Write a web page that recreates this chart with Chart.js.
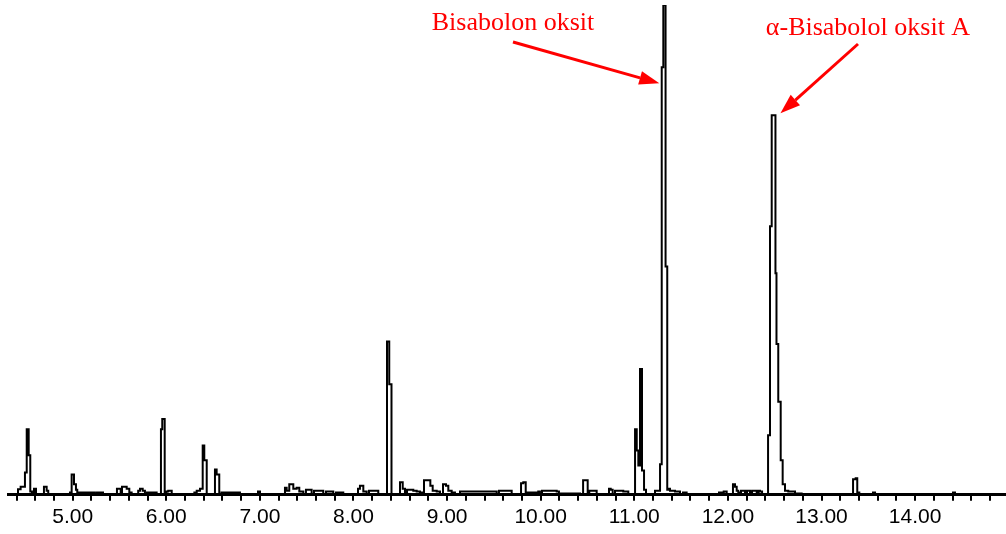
<!DOCTYPE html>
<html>
<head>
<meta charset="utf-8">
<script src="https://cdn.jsdelivr.net/npm/chart.js@4.4.1/dist/chart.umd.min.js"></script>
<style>
  html, body { margin: 0; padding: 0; background: #fff; }
  #wrap { position: relative; width: 1006px; height: 534px; }
</style>
</head>
<body>
<div id="wrap"><canvas id="tic"></canvas></div>
<script>
// retention time (min) and relative abundance (%) of the trace
const times = [
  4.309, 4.416, 4.444, 4.466, 4.490, 4.509, 4.530, 4.547, 4.565, 4.587, 4.608, 4.624, 4.693, 4.722, 4.739, 4.757,
  4.971, 4.989, 5.014, 5.035, 5.049, 5.067, 5.131, 5.150, 5.238, 5.260, 5.324, 5.345, 5.473, 5.495, 5.513, 5.527,
  5.577, 5.605, 5.630, 5.644, 5.700, 5.719, 5.748, 5.772, 5.794, 5.897, 5.911, 5.943, 5.957, 5.983, 6.002, 6.021,
  6.058, 6.082, 6.300, 6.325, 6.360, 6.389, 6.406, 6.432, 6.449, 6.520, 6.538, 6.566, 6.590, 6.787, 6.805, 6.980,
  7.001, 7.022, 7.268, 7.286, 7.314, 7.357, 7.393, 7.421, 7.464, 7.492, 7.553, 7.578, 7.677, 7.706, 7.784, 7.813,
  7.891, 7.920, 8.048, 8.069, 8.105, 8.141, 8.166, 8.230, 8.265, 8.283, 8.358, 8.382, 8.406, 8.422, 8.497, 8.526,
  8.550, 8.572, 8.639, 8.675, 8.710, 8.753, 8.793, 8.821, 8.846, 8.889, 8.924, 8.956, 8.988, 9.013, 9.049, 9.084,
  9.138, 9.530, 9.554, 9.690, 9.715, 9.790, 9.814, 9.840, 9.859, 9.974, 9.992, 10.014, 10.171, 10.195, 10.217, 10.420,
  10.453, 10.473, 10.502, 10.519, 10.598, 10.623, 10.730, 10.748, 10.769, 10.794, 10.882, 10.911, 10.936, 10.965, 11.008, 11.026,
  11.043, 11.061, 11.082, 11.104, 11.125, 11.150, 11.221, 11.246, 11.275, 11.293, 11.310, 11.334, 11.352, 11.365, 11.381, 11.417,
  11.435, 11.488, 11.520, 11.559, 11.584, 11.905, 11.934, 11.955, 11.987, 12.022, 12.054, 12.076, 12.094, 12.111, 12.140, 12.183,
  12.204, 12.236, 12.258, 12.274, 12.308, 12.327, 12.343, 12.365, 12.429, 12.450, 12.468, 12.487, 12.508, 12.519, 12.538, 12.564,
  12.585, 12.610, 12.645, 12.717, 12.788, 12.824, 13.337, 13.365, 13.382, 13.404, 13.422, 13.550, 13.572, 13.593, 14.405, 14.426,
  14.447, 14.971
];
const abundance = [
  0.3, 0.3, 1.3, 1.8, 1.8, 4.7, 13.5, 8.2, 0.8, 0.3, 1.4, 0.3, 0.3, 1.8, 1.0, 0.3,
  0.3, 0.6, 4.3, 2.3, 1.2, 0.3, 0.6, 0.3, 0.6, 0.3, 0.6, 0.3, 0.3, 1.4, 1.4, 0.3,
  1.8, 1.4, 0.6, 0.3, 0.3, 1.0, 1.4, 1.0, 0.3, 0.6, 0.3, 0.3, 13.5, 15.6, 0.6, 0.8,
  1.0, 0.3, 0.3, 0.6, 1.0, 1.4, 10.2, 7.2, 0.3, 0.3, 5.3, 4.3, 0.3, 0.6, 0.3, 0.3,
  0.8, 0.3, 0.3, 1.6, 1.0, 2.3, 1.4, 1.6, 0.8, 0.3, 1.2, 0.3, 1.0, 0.3, 0.8, 0.3,
  0.6, 0.3, 0.3, 1.4, 2.0, 0.8, 0.3, 1.0, 1.0, 0.3, 0.3, 31.4, 22.7, 0.3, 0.3, 2.7,
  1.4, 0.3, 1.2, 1.0, 0.8, 0.6, 3.1, 3.1, 2.0, 1.0, 0.8, 0.3, 2.3, 2.0, 1.0, 0.6,
  0.3, 0.8, 0.3, 1.0, 0.3, 0.3, 2.5, 2.7, 0.3, 0.6, 0.8, 0.3, 1.0, 0.8, 0.3, 0.4,
  0.3, 3.1, 3.1, 0.3, 1.0, 0.3, 0.3, 1.4, 1.2, 0.3, 1.0, 0.8, 0.8, 0.3, 0.3, 13.5,
  9.2, 6.1, 25.8, 5.1, 1.2, 0.3, 0.3, 1.0, 1.0, 6.4, 87.3, 100, 46.7, 1.2, 1.4, 1.0,
  1.0, 0.8, 0.3, 0.6, 0.3, 0.3, 0.6, 0.3, 0.8, 0.3, 0.3, 2.3, 1.8, 1.0, 0.6, 1.0,
  0.6, 1.0, 0.6, 1.0, 1.0, 0.6, 1.0, 0.8, 0.3, 12.3, 54.9, 77.5, 77.5, 45.3, 30.9, 19.1,
  7.2, 2.3, 1.0, 0.8, 0.4, 0.3, 0.3, 3.3, 3.5, 0.6, 0.3, 0.3, 0.6, 0.3, 0.3, 0.6,
  0.3, 0.3
];

// labelled peaks
const noteLabels = ["Bisabolon oksit", "\u03b1-Bisabolol oksit A"];
const noteTimes = [11.310, 12.508];
const noteHeights = [87.3, 77.5];

// axis: minor tick every 0.2 min, labelled every whole minute
const axisMin = 4.309;
const axisMax = 14.971;
const minorStep = 0.2;

// where each note's text sits and how its arrow meets the peak
const noteStyle = [
  { textX: 513, textY: 30, fromX: 513, fromY: 42, dx: -4, dy: 16 },
  { textX: 868, textY: 35, fromX: 858, fromY: 44, dx: 5, dy: -2 }
];

function drawArrow(ctx, x0, y0, x1, y1) {
  const ang = Math.atan2(y1 - y0, x1 - x0);
  const headLen = 20, headHalf = 7;
  const bx = x1 - headLen * Math.cos(ang);
  const by = y1 - headLen * Math.sin(ang);
  ctx.beginPath();
  ctx.moveTo(x0, y0);
  ctx.lineTo(bx, by);
  ctx.stroke();
  ctx.beginPath();
  ctx.moveTo(x1, y1);
  ctx.lineTo(bx + headHalf * Math.sin(ang), by - headHalf * Math.cos(ang));
  ctx.lineTo(bx - headHalf * Math.sin(ang), by + headHalf * Math.cos(ang));
  ctx.closePath();
  ctx.fill();
}

const peakNotes = {
  id: "peakNotes",
  afterDatasetsDraw(chart) {
    const { ctx, scales } = chart;
    ctx.save();
    ctx.fillStyle = "#ff0000";
    ctx.strokeStyle = "#ff0000";
    ctx.lineWidth = 3;
    ctx.font = '26px "Liberation Serif", "Times New Roman", serif';
    ctx.textAlign = "center";
    ctx.textBaseline = "alphabetic";
    noteLabels.forEach((label, i) => {
      const s = noteStyle[i];
      const tipX = scales.x.getPixelForValue(noteTimes[i]) + s.dx;
      const tipY = scales.y.getPixelForValue(noteHeights[i]) + s.dy;
      ctx.fillText(label, s.textX, s.textY);
      drawArrow(ctx, s.fromX, s.fromY, tipX, tipY);
    });
    ctx.restore();
  },
};

const ctx = document.getElementById("tic").getContext("2d");
new Chart(ctx, {
  type: "line",
  data: {
    datasets: [
      {
        data: times.map((t, i) => ({ x: t, y: abundance[i] })),
        borderColor: "#000",
        borderWidth: 2,
        pointRadius: 0,
        stepped: "after",
        fill: false,
      },
    ],
  },
  options: {
    responsive: true,
    maintainAspectRatio: false,
    animation: false,
    layout: { padding: { left: 8, right: 0, top: 5, bottom: 0 } },
    plugins: { legend: { display: false }, tooltip: { enabled: false } },
    scales: {
      x: {
        type: "linear",
        min: axisMin,
        max: axisMax,
        border: { display: true, color: "#000", width: 3 },
        grid: {
          drawOnChartArea: false,
          drawTicks: true,
          tickLength: 6,
          lineWidth: 2,
          color: "#000",
        },
        ticks: {
          stepSize: minorStep,
          includeBounds: false,
          autoSkip: false,
          maxRotation: 0,
          padding: 4,
          color: "#000",
          font: { family: '"Liberation Sans", Arial, sans-serif', size: 21 },
          callback: (v) => (Math.abs(v - Math.round(v)) < 1e-6 ? v.toFixed(2) : ""),
        },
      },
      // trace baseline sits just on the axis line
      y: { display: false, min: 0.15, max: 100 },
    },
  },
  plugins: [peakNotes],
});
</script>
</body>
</html>
